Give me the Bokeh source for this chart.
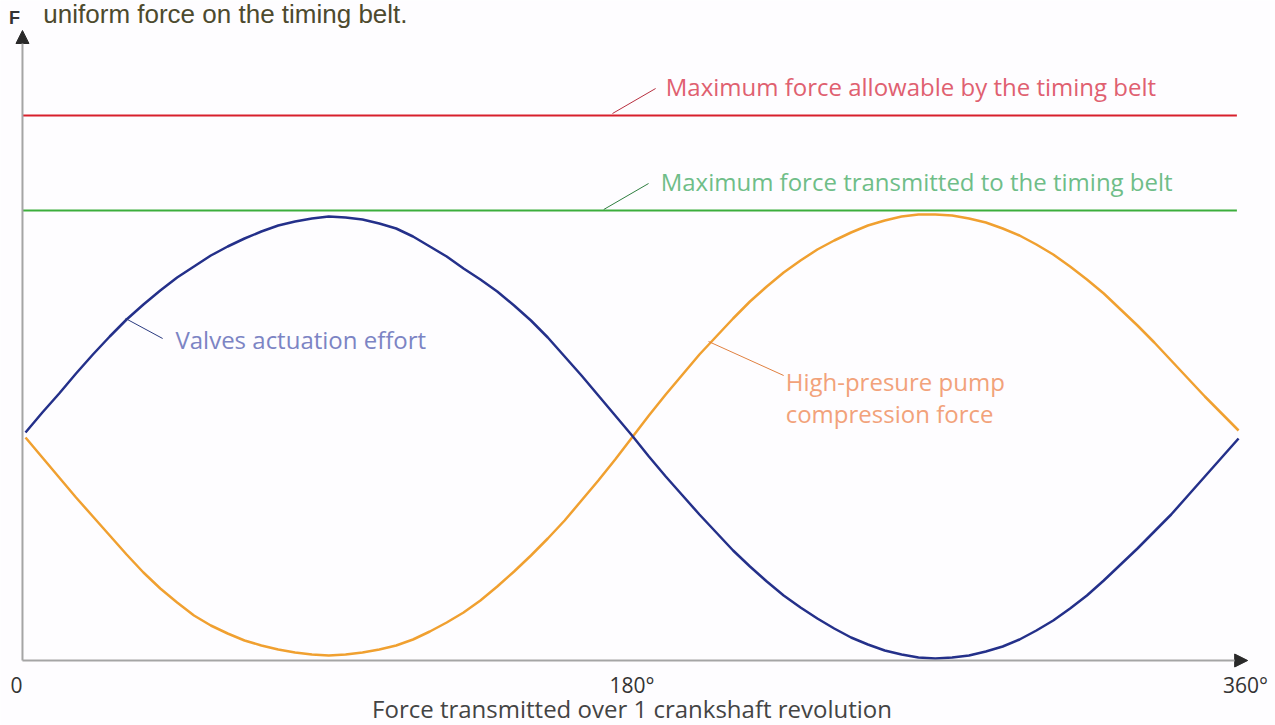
from bokeh.plotting import figure
from bokeh.models import Range1d, Arrow, NormalHead, ColumnDataSource
from bokeh.core.properties import value
from bokeh.embed import file_html
from bokeh.resources import INLINE

# ---- data ----
angle_deg = list(range(0, 361, 5))
valves_effort = [228, 248, 267, 287, 306, 324, 341, 356, 370, 383, 394, 405, 414, 422, 429, 435, 439, 442, 444,
                 443, 441, 437, 432, 424, 414, 404, 392, 381, 369, 355, 340, 323, 304, 285, 265, 245, 225,
                 204, 184, 165, 146, 128, 110, 94, 79, 65, 53, 42, 32, 23, 16, 10, 6, 3, 2,
                 3, 5, 9, 14, 21, 30, 40, 52, 65, 80, 96, 112, 129, 146, 165, 184, 203, 222]
pump_force = [223, 203, 183, 163, 144, 125, 106, 88, 72, 58, 45, 35, 27, 20, 15, 11, 8, 6, 5,
              6, 8, 11, 15, 21, 29, 38, 48, 60, 74, 89, 105, 122, 140, 160, 180, 201, 223,
              245, 266, 286, 306, 324, 342, 359, 374, 388, 400, 411, 420, 428, 435, 440, 444, 446, 446,
              445, 442, 438, 432, 425, 416, 406, 394, 381, 367, 351, 335, 318, 300, 282, 264, 247, 230]
max_allowable = 545
max_transmitted = 450
tick_values = [0, 180, 360]
tick_labels = ["0", "180°", "360°"]

# ---- styling / layout ----
FONT = value("Open Sans")
BG = "#fefdff"
X0 = -0.9               # position of the vertical axis (degrees)
label_dx = [-9, 0, 7]   # small horizontal nudges of the tick labels (px)

p = figure(width=1275, height=725, x_range=Range1d(-7.42, 370.96), y_range=Range1d(-65, 660),
           x_axis_type=None, y_axis_type=None, output_backend="svg", toolbar_location=None,
           min_border=0, min_border_left=0, min_border_right=0, min_border_top=0, min_border_bottom=0)
p.background_fill_color = BG
p.border_fill_color = BG
p.outline_line_color = None
p.xgrid.visible = False
p.ygrid.visible = False

# tick labels and axis title
tick_src = ColumnDataSource(dict(x=tick_values, y=[0] * len(tick_values), text=tick_labels, dx=label_dx))
p.text(x="x", y="y", text="text", x_offset="dx", y_offset=24, source=tick_src, text_font=FONT,
       text_font_size="21px", text_color="#333333", text_align="center", text_baseline="middle")
p.text(x=[180], y=[0], text=["Force transmitted over 1 crankshaft revolution"], y_offset=48,
       text_font=FONT, text_font_size="24px", text_color="#444444", text_align="center",
       text_baseline="middle")

# axes arrows
p.add_layout(Arrow(end=NormalHead(size=13, fill_color="#2a2a2a", line_color="#2a2a2a"),
                   x_start=X0, y_start=0, x_end=362.7, y_end=0,
                   line_color="#a5a5a5", line_width=2))
p.add_layout(Arrow(end=NormalHead(size=13, fill_color="#2a2a2a", line_color="#2a2a2a"),
                   x_start=X0, y_start=0, x_end=X0, y_end=630,
                   line_color="#a5a5a5", line_width=2))
p.text(x=[X0], y=[630], text=["F"], x_offset=-8, y_offset=-13, text_font=value("Liberation Sans"),
       text_font_size="18px", text_font_style="bold", text_color="#333333", text_align="center",
       text_baseline="middle")
# caption at the very top (cut off in the reference)
p.text(x=[5.3], y=[660], text=["uniform force on the timing belt."], y_offset=13,
       text_font=value("Liberation Sans"), text_font_size="26px", text_color="#4d4a2e",
       text_align="left", text_baseline="alphabetic")

# limit lines
p.line([X0, 359.5], [max_allowable, max_allowable], line_color="#d8202c", line_width=2)
p.line([X0, 359.5], [max_transmitted, max_transmitted], line_color="#3cae3c", line_width=2)

# curves
p.line(angle_deg, pump_force, line_color="#f0a030", line_width=2.5)
p.line(angle_deg, valves_effort, line_color="#24308a", line_width=2.5)

# annotations: leader lines and texts
def note(xs, ys, lcolor, tx, ty, lines, tcolor):
    p.line(xs, ys, line_color=lcolor, line_width=1)
    p.text(x=[tx] * len(lines), y=[ty - 32 * i for i in range(len(lines))], text=lines, text_font=FONT,
           text_font_size="24px", text_color=tcolor, text_align="left", text_baseline="middle")

note([174.2, 187.0], [max_allowable + 2, 572], "#b83040", 190, 574,
     ["Maximum force allowable by the timing belt"], "#e06070")
note([171.6, 184.9], [max_transmitted + 1, 477], "#2f7f40", 188.5, 479,
     ["Maximum force transmitted to the timing belt"], "#6fbd88")
note([29.7, 40.7], [342, 322], "#2a3a80", 44.5, 321,
     ["Valves actuation effort"], "#7c84c4")
note([202.7, 225.0], [319, 285], "#e08040", 225.6, 279,
     ["High-presure pump", "compression force"], "#f2a27a")

open("out.html", "w").write(file_html(p, INLINE))
